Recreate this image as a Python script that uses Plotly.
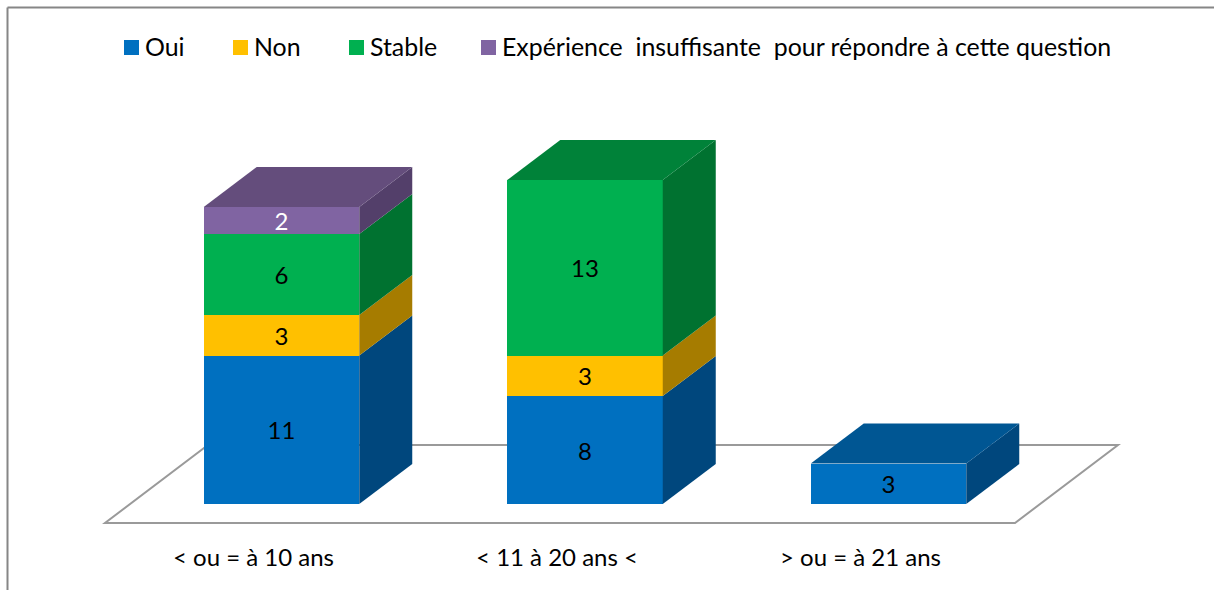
import plotly.graph_objects as go

categories = ["< ou = à 10 ans", "< 11 à 20 ans <", "> ou = à 21 ans"]
series_names = ["Oui", "Non", "Stable", "Expérience  insuffisante  pour répondre à cette question"]
oui = [11, 8, 3]
non = [3, 3, 0]
stable = [6, 13, 0]
experience = [2, 0, 0]
series_values = [oui, non, stable, experience]

front_colors = ["#0070c0", "#ffc000", "#00b050", "#8064a2"]
top_colors = ["#005693", "#b38600", "#008239", "#644d7c"]
side_colors = ["#00477d", "#a67c00", "#007230", "#533f6a"]
label_colors = ["black", "black", "black", "white"]
key_px = [124, 233, 349, 481]

WIDTH, HEIGHT = 1214, 590
PLOT_BOTTOM = 541
BASE_PX = 504
UNIT_PX = 13.5       # pixels per unit of value
STEP_PX = 303.5      # pixels between categories
FIRST_PX = 253.5     # label centre of the first category
BAR_SHIFT = 28 / STEP_PX   # bars sit right of their label (3D perspective)
BAR_W = 155.5 / STEP_PX
DEPTH_X = 53 / STEP_PX
DEPTH_Y = 40 / UNIT_PX


def x_at(px):
    return (px - FIRST_PX) / STEP_PX


def y_at(px):
    return (BASE_PX - px) / UNIT_PX


fig = go.Figure()

# front faces
for name, vals, color, lab in zip(series_names, series_values, front_colors, label_colors):
    xs = [i + BAR_SHIFT for i in range(len(categories))]
    fig.add_trace(go.Bar(
        x=xs, y=vals, name=name, width=BAR_W, marker=dict(color=color, line_width=0),
        text=[str(v) if v else "" for v in vals], textposition="inside", insidetextanchor="middle",
        textangle=0, constraintext="none", textfont=dict(color=lab, size=24, family="Lato"),
        showlegend=False,
    ))

# side and top faces of the stacks
for i in range(len(categories)):
    left = i + BAR_SHIFT - BAR_W / 2
    right = i + BAR_SHIFT + BAR_W / 2
    level = 0
    last = 0
    for s, vals in enumerate(series_values):
        v = vals[i]
        if not v:
            continue
        fig.add_trace(go.Scatter(
            x=[right, right + DEPTH_X, right + DEPTH_X, right, right],
            y=[level, level + DEPTH_Y, level + v + DEPTH_Y, level + v, level],
            mode="lines", fill="toself", fillcolor=side_colors[s], line_width=0,
            hoverinfo="skip", showlegend=False,
        ))
        level += v
        last = s
    fig.add_trace(go.Scatter(
        x=[left, right, right + DEPTH_X, left + DEPTH_X, left],
        y=[level, level, level + DEPTH_Y, level + DEPTH_Y, level],
        mode="lines", fill="toself", fillcolor=top_colors[last], line_width=0,
        hoverinfo="skip", showlegend=False,
    ))

# key at the top of the chart
for name, color, px in zip(series_names, front_colors, key_px):
    fig.add_trace(go.Scatter(
        x=[x_at(px + 7.5)], y=[y_at(47.5)], mode="markers",
        marker=dict(symbol="square", size=15, color=color),
        hoverinfo="skip", showlegend=False, cliponaxis=False,
    ))
    fig.add_annotation(x=x_at(px + 21), y=y_at(47.5), text=name, showarrow=False, xanchor="left",
                       yanchor="middle", yshift=2, borderpad=0, borderwidth=0,
                       font=dict(size=24.9, family="Lato", color="black"))

# floor behind the bars
floor_pts = [(105, 523), (1015, 523), (1118, 445), (208, 445)]
floor_path = "M " + " L ".join("%f,%f" % (x_at(a), y_at(b)) for a, b in floor_pts) + " Z"
fig.add_shape(type="path", path=floor_path, xref="x", yref="y", layer="below",
              line=dict(color="#9a9a9a", width=2))

# chart frame, left and top only
top_paper = (PLOT_BOTTOM - 7.5) / PLOT_BOTTOM
fig.add_shape(type="line", xref="paper", yref="paper", x0=7.5 / WIDTH, x1=7.5 / WIDTH,
              y0=(PLOT_BOTTOM - HEIGHT) / PLOT_BOTTOM, y1=top_paper, line=dict(color="#868686", width=2))
fig.add_shape(type="line", xref="paper", yref="paper", x0=7.5 / WIDTH, x1=1,
              y0=top_paper, y1=top_paper, line=dict(color="#868686", width=2))

fig.update_layout(
    width=WIDTH, height=HEIGHT, barmode="stack",
    margin=dict(l=0, r=0, t=0, b=HEIGHT - PLOT_BOTTOM, pad=0),
    paper_bgcolor="white", plot_bgcolor="white",
    font=dict(family="Lato", size=24, color="black"),
    xaxis=dict(range=[x_at(0), x_at(WIDTH)], tickvals=list(range(len(categories))), ticktext=categories,
               showgrid=False, zeroline=False, showline=False, ticks="", tickfont=dict(size=24, family="Lato")),
    yaxis=dict(range=[y_at(PLOT_BOTTOM), y_at(0)], visible=False, showgrid=False, zeroline=False),
    hovermode="closest",
)

fig.write_html("out.html", config={"displayModeBar": False},
               post_script="document.body.style.margin='0';document.body.style.overflow='hidden';")
